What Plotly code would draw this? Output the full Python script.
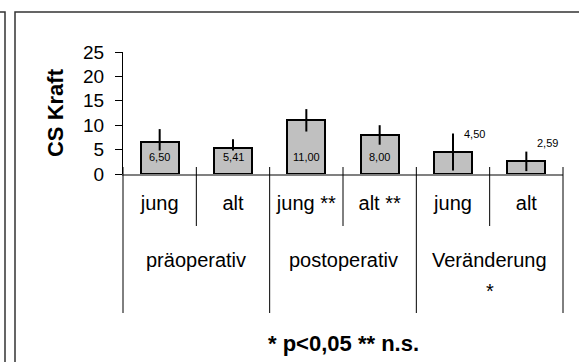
import plotly.graph_objects as go

# ---- data ----
sub_labels = ["jung", "alt", "jung **", "alt **", "jung", "alt"]
group_labels = ["präoperativ", "postoperativ", "Veränderung"]
group_marks = ["", "", "*"]
values = [6.50, 5.41, 11.00, 8.00, 4.50, 2.59]
errors = [2.7, 1.7, 2.3, 2.0, 3.8, 2.0]
y_ticks = [0, 5, 10, 15, 20, 25]
y_title = "CS Kraft"
footnote = "* p<0,05 ** n.s."

# ---- label placement styles ----
label_mode = ["base", "base", "base", "base", "outside", "outside"]
label_extra_px = [0, 0, 0, 0, 0, 9]

FONT = "Arial, Liberation Sans, sans-serif"
W, H = 579, 362
PL, PR, PT, PB = 123, 563, 52, 174


def xp(px):
    return (px - PL) / (PR - PL)


def yp(py):
    return (PB - py) / (PB - PT)


x = list(range(len(values)))

fig = go.Figure()
fig.add_trace(go.Bar(
    x=x, y=values, width=0.52,
    marker=dict(color="#c0c0c0", line=dict(color="black", width=2)),
    error_y=dict(type="data", array=errors, color="black", thickness=2, width=0),
    showlegend=False, hoverinfo="skip",
))

annotations = []
for i, (v, e) in enumerate(zip(values, errors)):
    txt = f"{v:.2f}".replace(".", ",")
    if label_mode[i] == "base":
        annotations.append(dict(x=i, y=0, xref="x", yref="y", text=txt, showarrow=False,
                                yanchor="bottom", yshift=10, bgcolor="#c0c0c0", borderpad=0,
                                font=dict(family=FONT, size=11, color="black")))
    else:
        annotations.append(dict(x=i, y=v + e, xref="x", yref="y", text=txt, showarrow=False,
                                xanchor="left", yanchor="middle", xshift=9,
                                yshift=label_extra_px[i],
                                font=dict(family=FONT, size=11, color="black")))

# group labels and significance marks
for g, (lab, mark) in enumerate(zip(group_labels, group_marks)):
    annotations.append(dict(x=2 * g + 0.5, y=yp(260), xref="x", yref="paper", text=lab,
                            showarrow=False, yanchor="middle",
                            font=dict(family=FONT, size=20, color="black")))
    if mark:
        annotations.append(dict(x=2 * g + 0.5, y=yp(291), xref="x", yref="paper", text=mark,
                                showarrow=False, yanchor="middle",
                                font=dict(family=FONT, size=20, color="black")))

# footnote
annotations.append(dict(x=0.5, y=yp(343), xref="paper", yref="paper", text="<b>" + footnote + "</b>",
                        showarrow=False, yanchor="middle",
                        font=dict(family=FONT, size=22, color="black")))

shapes = []
# frames
shapes.append(dict(type="rect", xref="paper", yref="paper", x0=xp(15), x1=xp(700), y0=yp(12), y1=yp(500),
                   line=dict(color="#333333", width=1.5)))
shapes.append(dict(type="rect", xref="paper", yref="paper", x0=xp(-300), x1=xp(5), y0=yp(12), y1=yp(500),
                   line=dict(color="#333333", width=1.5)))
# category separators
n = len(values)
for i in range(n + 1):
    bottom = 313 if i % 2 == 0 else 226
    shapes.append(dict(type="line", xref="paper", yref="paper", x0=i / n, x1=i / n,
                       y0=yp(167), y1=yp(bottom), line=dict(color="black", width=1)))

fig.update_layout(
    width=W, height=H,
    margin=dict(l=PL, r=W - PR, t=PT, b=H - PB, autoexpand=False),
    paper_bgcolor="white", plot_bgcolor="white",
    bargap=0,
    xaxis=dict(range=[-0.5, n - 0.5], tickvals=x, ticktext=sub_labels, ticks="",
               showline=True, linecolor="#808080", linewidth=2, showgrid=False, zeroline=False,
               ticklabelstandoff=10, tickfont=dict(family=FONT, size=20, color="black"),
               fixedrange=True),
    yaxis=dict(range=[0, 25], tickvals=y_ticks, ticks="outside", ticklen=7, tickcolor="black",
               showline=True, linecolor="black", linewidth=1, showgrid=False, zeroline=False,
               ticklabelstandoff=7, tickfont=dict(family=FONT, size=19, color="black"),
               title=dict(text="<b>" + y_title + "</b>", standoff=13,
                          font=dict(family=FONT, size=22, color="black"))),
    yaxis2=dict(range=[0, 25], tickvals=y_ticks, ticks="inside", ticklen=6, tickcolor="black",
                overlaying="y", side="left", showticklabels=False, showgrid=False,
                zeroline=False, showline=False),
    annotations=annotations,
    shapes=shapes,
)

fig.write_html("out.html", config={"displayModeBar": False},
               post_script="document.body.style.margin='0';document.body.style.overflow='hidden';")
